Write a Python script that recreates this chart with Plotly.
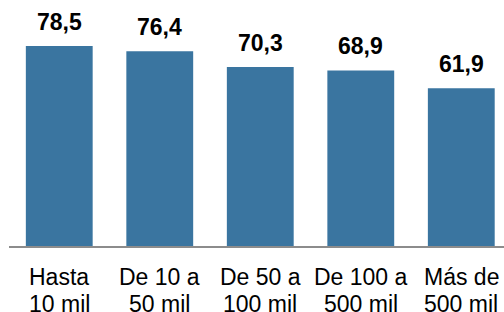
import plotly.graph_objects as go

categories = ["Hasta\n10 mil", "De 10 a\n50 mil", "De 50 a\n100 mil", "De 100 a\n500 mil", "Más de\n500 mil"]
values = [78.5, 76.4, 70.3, 68.9, 61.9]
value_labels = ["78,5", "76,4", "70,3", "68,9", "61,9"]

bar_color = "#3a75a0"
font_family = "Liberation Sans, Arial, sans-serif"

fig = go.Figure()
fig.add_trace(go.Bar(
    x=list(range(len(categories))),
    y=values,
    marker=dict(color=bar_color, line=dict(width=0)),
    hoverinfo="skip",
))

annotations = []
for i, (v, t) in enumerate(zip(values, value_labels)):
    annotations.append(dict(
        x=i, y=v, xref="x", yref="y", text="<b>" + t + "</b>",
        showarrow=False, yanchor="middle", xanchor="center", yshift=24,
        font=dict(family=font_family, size=23, color="#000000"),
    ))
for i, c in enumerate(categories):
    lines = c.split("\n")
    for j, line in enumerate(lines):
        annotations.append(dict(
            x=i, y=0, xref="x", yref="paper", text=line,
            showarrow=False, yanchor="middle", xanchor="center",
            yshift=-31 - 26.5 * j,
            font=dict(family=font_family, size=23, color="#000000"),
        ))

fig.update_layout(
    width=504, height=312,
    margin=dict(l=9, r=0, t=0, b=66, pad=0),
    paper_bgcolor="white", plot_bgcolor="white",
    showlegend=False,
    bargap=0.335,
    annotations=annotations,
    xaxis=dict(
        range=[-0.5, 4.425], showgrid=False, zeroline=False,
        showticklabels=False, ticks="",
        showline=True, linecolor="#8c8c8c", linewidth=2,
        fixedrange=True,
    ),
    yaxis=dict(
        range=[0, 96.55], showgrid=False, zeroline=False,
        showticklabels=False, ticks="", showline=False,
        fixedrange=True,
    ),
)

fig.write_html(
    "out.html",
    config={"displayModeBar": False},
    post_script="document.body.style.margin='0';document.body.style.padding='0';",
)
